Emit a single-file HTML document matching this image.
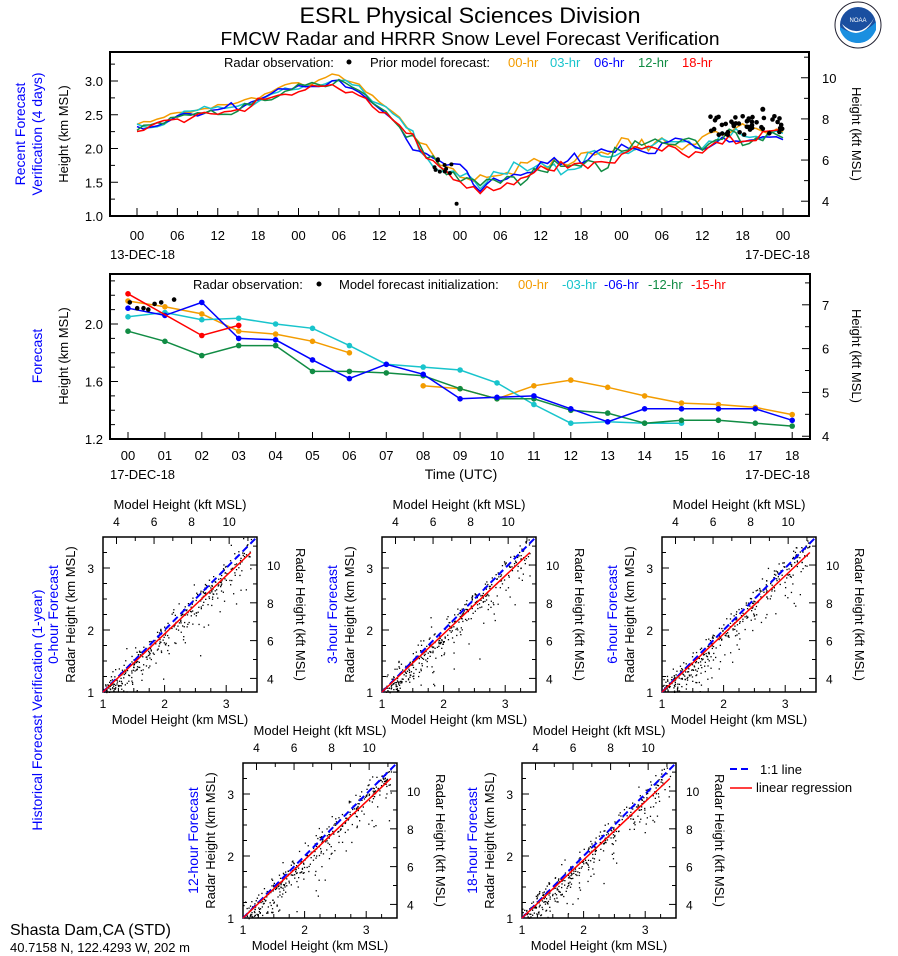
<!DOCTYPE html>
<html><head><meta charset="utf-8">
<style>
html,body{margin:0;padding:0;background:#fff;}
svg{display:block;font-family:"Liberation Sans",sans-serif;}
</style></head>
<body>
<svg id="s" width="898" height="956" xmlns="http://www.w3.org/2000/svg"></svg>
<script>
(function(){
var S=document.getElementById('s');var out=[];
function P(s){out.push(s);}
var seed=12345;
function rnd(){seed|=0;seed=(seed+0x6D2B79F5)|0;var t=Math.imul(seed^(seed>>>15),1|seed);t=(t+Math.imul(t^(t>>>7),61|t))^t;return ((t^(t>>>14))>>>0)/4294967296;}
function gauss(){var u=rnd()||1e-6,v=rnd();return Math.sqrt(-2*Math.log(u))*Math.cos(2*Math.PI*v);}
function T(x,y,t,o){o=o||{};P('<text x="'+x+'" y="'+y+'" font-size="'+(o.fs||13)+'" fill="'+(o.c||'#000')+'" text-anchor="'+(o.a||'middle')+'"'+(o.r?' transform="rotate('+o.r+' '+x+' '+y+')"':'')+(o.tl?' textLength="'+o.tl+'" lengthAdjust="spacingAndGlyphs"':'')+'>'+t+'</text>');}
function L(x1,y1,x2,y2,c,w,d){P('<line x1="'+x1+'" y1="'+y1+'" x2="'+x2+'" y2="'+y2+'" stroke="'+(c||'#000')+'" stroke-width="'+(w||1)+'"'+(d?' stroke-dasharray="'+d+'"':'')+'/>');}
function PL(pts,c,w,d){P('<polyline fill="none" stroke="'+c+'" stroke-width="'+(w||1.5)+'"'+(d?' stroke-dasharray="'+d+'"':'')+' points="'+pts.map(function(p){return p[0].toFixed(1)+','+p[1].toFixed(1)}).join(' ')+'"/>');}
function C(x,y,r,c){P('<circle cx="'+x.toFixed(1)+'" cy="'+y.toFixed(1)+'" r="'+r+'" fill="'+c+'"/>');}
var OR='#f39c00',CY='#18c4cc',BL='#0000ff',GR='#118c44',RD='#ff0000',BLUE='#0000ff';
T(470,23,'ESRL Physical Sciences Division',{fs:22,tl:341});
T(470,45,'FMCW Radar and HRRR Snow Level Forecast Verification',{fs:18,tl:499});
P('<circle cx="858" cy="25" r="23" fill="#fff" stroke="#223" stroke-width="1"/><circle cx="858" cy="25" r="18" fill="#1a4fa0"/><path d="M840,27 Q858,40 876,22 L876,30 Q870,43 858,43 Q845,43 840,30Z" fill="#1a8fe0"/><path d="M842,24 Q852,34 862,30 Q870,26 874,18 Q868,32 856,33 Q846,32 842,24Z" fill="#fff"/>');
T(858,22,'NOAA',{fs:6,c:'#fff'});
var X0=110,X1=809,Y0=52,Y1=216;
function tx(h){return 137+h*(783-137)/96;}
function ty(v){return 216-(v-1)*67.5;}
P('<rect x="'+X0+'" y="'+Y0+'" width="'+(X1-X0)+'" height="'+(Y1-Y0)+'" fill="none" stroke="#000" stroke-width="2"/>');
for(var v=1;v<=3.41;v+=0.25){var y=ty(v);L(X0,y,X0+(Math.abs(v*2-Math.round(v*2))<0.01?8:5),y);}
[1,1.5,2,2.5,3].forEach(function(v){T(103,ty(v)+5,v.toFixed(1),{a:'end',fs:13});});
for(var h=0;h<=96;h+=3){L(tx(h),Y1,tx(h),Y1-(h%6==0?8:5));}
var lab=['00','06','12','18'];
for(var h=0;h<=96;h+=6){T(tx(h),240,lab[(h/6)%4],{fs:13});}
T(110,259,'13-DEC-18',{a:'start',fs:13});
T(810,259,'17-DEC-18',{fs:13,a:'end'});
function kty(k){return ty(k*0.3048);}
for(var k=4;k<=11;k+=1){var y=kty(k);L(X1,y,X1-(k%2==0?8:5),y);}
[4,6,8,10].forEach(function(k){T(822,kty(k)+5,k,{a:'start',fs:13});});
T(852,134,'Height (kft MSL)',{r:90,fs:13});
T(68,134,'Height (km MSL)',{r:-90,fs:13});
T(25,134,'Recent Forecast',{r:-90,fs:14,c:BLUE});
T(42,134,'Verification (4 days)',{r:-90,fs:14,c:BLUE});
T(224,67,'Radar observation:',{a:'start',fs:13});C(349,62,2.5,'#000');
T(370,67,'Prior model forecast:',{a:'start',fs:13});
T(508,67,'00-hr',{a:'start',fs:13,c:OR});T(550,67,'03-hr',{a:'start',fs:13,c:CY});T(594,67,'06-hr',{a:'start',fs:13,c:BL});T(638,67,'12-hr',{a:'start',fs:13,c:GR});T(682,67,'18-hr',{a:'start',fs:13,c:RD});
var kp=[[0,2.32],[4,2.42],[8,2.5],[12,2.58],[15,2.58],[18,2.72],[21,2.85],[24,2.92],[27,2.95],[30,3.0],[33,2.85],[36,2.6],[39,2.4],[42,2.0],[45,1.75],[48,1.6],[51,1.45],[54,1.58],[57,1.65],[60,1.75],[63,1.78],[66,1.85],[69,1.9],[72,1.98],[78,2.05],[84,2.1],[90,2.22],[96,2.2]];
function base(h){for(var i=0;i<kp.length-1;i++){if(h<=kp[i+1][0]){var f=(h-kp[i][0])/(kp[i+1][0]-kp[i][0]);return kp[i][1]+f*(kp[i+1][1]-kp[i][1]);}}return kp[kp.length-1][1];}
var cols=[[OR,0.04],[CY,-0.01],[BL,0],[GR,-0.03],[RD,-0.06]];
cols.forEach(function(c){var pts=[];var off=0;for(var h=0;h<=96;h++){var amp=h<40?0.03:0.07;off=off*0.5+gauss()*amp;pts.push([tx(h),ty(base(h)+c[1]+off)]);}PL(pts,c[0],1.5);});
for(var i=0;i<10;i++){var h=44+rnd()*3;C(tx(h),ty(1.6+rnd()*0.25),2,'#000');}
C(tx(47.5),ty(1.18),2,'#000');
for(var i=0;i<45;i++){var h=85+rnd()*11;C(tx(h),ty(2.2+rnd()*0.28),2.3,'#000');}
C(tx(93),ty(2.58),2.5,'#000');
var MX0=110,MX1=810,MY0=274,MY1=439;
function mx(h){return 128+h*36.9;}
function my(v){return 439-(v-1.2)*143.75;}
P('<rect x="'+MX0+'" y="'+MY0+'" width="'+(MX1-MX0)+'" height="'+(MY1-MY0)+'" fill="none" stroke="#000" stroke-width="2"/>');
for(var v=1.2;v<=2.31;v+=0.1){var y=my(v);L(MX0,y,MX0+(Math.round(v*10)%4==0?8:5),y);}
[1.2,1.6,2.0].forEach(function(v){T(103,my(v)+5,v.toFixed(1),{a:'end',fs:13});});
for(var h=0;h<=18;h++){L(mx(h),MY1,mx(h),MY1-7);T(mx(h),460,(h<10?'0':'')+h,{fs:13});}
T(110,479,'17-DEC-18',{a:'start',fs:13});T(810,479,'17-DEC-18',{a:'end',fs:13});
T(461,479,'Time (UTC)',{fs:14});
for(var k=4;k<=7.6;k+=0.5){var y=my(k*0.3048);L(MX1,y,MX1-(k%1==0?8:5),y);}
[4,5,6,7].forEach(function(k){T(822,my(k*0.3048)+5,k,{a:'start',fs:13});});
T(852,356,'Height (kft MSL)',{r:90,fs:13});
T(68,356,'Height (km MSL)',{r:-90,fs:13});
T(42,356,'Forecast',{r:-90,fs:14,c:BLUE});
T(193,289,'Radar observation:',{a:'start',fs:13});C(319,284,2.5,'#000');
T(339,289,'Model forecast initialization:',{a:'start',fs:13});
T(518,289,'00-hr',{a:'start',fs:13,c:OR});T(562,289,'-03-hr',{a:'start',fs:13,c:CY});T(604,289,'-06-hr',{a:'start',fs:13,c:BL});T(648,289,'-12-hr',{a:'start',fs:13,c:GR});T(691,289,'-15-hr',{a:'start',fs:13,c:RD});
function ser(d,c){var segs=[],cur=[];d.forEach(function(p){if(p===null){if(cur.length)segs.push(cur);cur=[];}else cur.push(p);});if(cur.length)segs.push(cur);segs.forEach(function(s){PL(s.map(function(p){return[mx(p[0]),my(p[1])]}),c,1.5);s.forEach(function(p){C(mx(p[0]),my(p[1]),2.8,c);});});}
ser([[0,2.16],[1,2.12],[2,2.07],[3,1.95],[4,1.93],[5,1.88],[6,1.80],null,[8,1.57],[9,1.55],[10,1.48],[11,1.57],[12,1.61],[13,1.56],[14,1.50],[15,1.45],[16,1.44],[17,1.42],[18,1.37]],OR);
ser([[0,2.05],[1,2.08],[2,2.03],[3,2.04],[4,2.0],[5,1.97],[6,1.85],[7,1.72],[8,1.70],[9,1.68],[10,1.59],[11,1.44],[12,1.31],[13,1.32],[14,1.31],[15,1.31]],CY);
ser([[0,1.95],[1,1.88],[2,1.78],[3,1.85],[4,1.85],[5,1.67],[6,1.67],[7,1.66],[8,1.64],[9,1.55],[10,1.48],[11,1.48],[12,1.40],[13,1.38],[14,1.31],[15,1.33],[16,1.33],[17,1.31],[18,1.29]],GR);
ser([[0,2.11],[1,2.06],[2,2.15],[3,1.90],[4,1.89],[5,1.75],[6,1.62],[7,1.72],[8,1.65],[9,1.48],[10,1.49],[11,1.50],[12,1.41],[13,1.32],[14,1.41],[15,1.41],[16,1.41],[17,1.41],[18,1.33]],BL);
ser([[0,2.21],[2,1.92],[3,1.99]],RD);
[[0.05,2.15],[0.25,2.11],[0.42,2.11],[0.55,2.10],[0.72,2.14],[0.9,2.15],[1.25,2.17]].forEach(function(p){C(mx(p[0]),my(p[1]),2.3,'#000');});
T(42,710,'Historical Forecast Verification (1-year)',{r:-90,fs:14,c:BLUE});
function scatter(x0,y0,name,sd){
 var w=154,h=155;function sx(v){return x0+(v-1)*w/2.5;}function sy(v){return y0+h-(v-1)*h/2.5;}
 P('<rect x="'+x0+'" y="'+y0+'" width="'+w+'" height="'+h+'" fill="none" stroke="#000" stroke-width="1.5"/>');
 for(var v=1;v<=3.51;v+=0.25){var big=Math.abs(v-Math.round(v))<0.01;L(sx(v),y0+h,sx(v),y0+h-(big?7:4));L(x0,sy(v),x0+(big?7:4),sy(v));}
 for(var k=4;k<=11.4;k+=1){var km=k*0.3048;L(sx(km),y0,sx(km),y0+(k%2==0?7:4));L(x0+w,sy(km),x0+w-(k%2==0?7:4),sy(km));}
 [1,2,3].forEach(function(v){T(sx(v),y0+h+16,v,{fs:12});T(x0-9,sy(v)+5,v,{a:'end',fs:12});});
 [4,6,8,10].forEach(function(k){T(sx(k*0.3048),y0-11,k,{fs:12});T(x0+w+10,sy(k*0.3048)+5,k,{a:'start',fs:12});});
 T(x0+w/2,y0+h+32,'Model Height (km MSL)',{fs:13});
 T(x0+w/2,y0-28,'Model Height (kft MSL)',{fs:13});
 T(x0-28,y0+h/2,'Radar Height (km MSL)',{r:-90,fs:13});
 T(x0+w+39,y0+h/2,'Radar Height (kft MSL)',{r:90,fs:13});
 T(x0-45,y0+h/2,name,{r:-90,fs:14,c:BLUE});
 seed=sd;
 for(var i=0;i<420;i++){var m=1+Math.pow(rnd(),1.3)*2.4;var r=m-0.04+gauss()*0.11+(rnd()<0.3?-Math.abs(gauss())*0.3:0);if(r<1||r>3.5||m>3.5)continue;P('<rect x="'+sx(m).toFixed(1)+'" y="'+sy(r).toFixed(1)+'" width="1.3" height="1.3" fill="#000"/>');}
 L(sx(1),sy(1),sx(3.5),sy(3.5),'#0000ff',2,'7,4');
 L(sx(1),sy(1),sx(3.4),sy(3.25),'#ff0000',1.5);
}
scatter(103,537,'0-hour Forecast',101);
scatter(382,537,'3-hour Forecast',202);
scatter(662,537,'6-hour Forecast',303);
scatter(243,763,'12-hour Forecast',404);
scatter(522,763,'18-hour Forecast',505);
L(730,769,752,769,'#0000ff',2,'7,4');T(760,774,'1:1 line',{a:'start',fs:13});
L(730,788,752,788,'#ff0000',1.5);T(756,792,'linear regression',{a:'start',fs:13});
T(10,935,'Shasta Dam,CA (STD)',{a:'start',fs:16});
T(10,952,'40.7158 N, 122.4293 W, 202 m',{a:'start',fs:13});
S.innerHTML=out.join('');
})();
</script>
</body></html>
